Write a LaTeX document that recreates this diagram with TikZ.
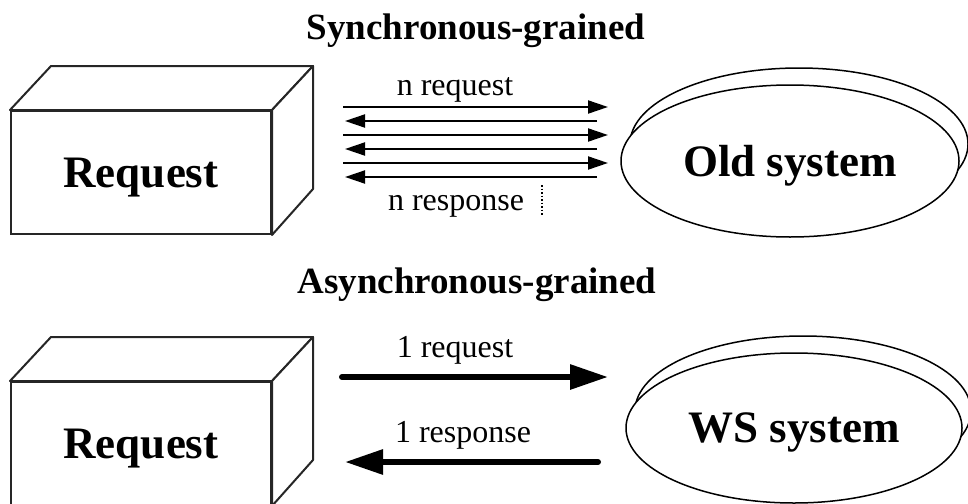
\documentclass[tikz,border=0pt]{standalone}
\usepackage{fontspec}
\setmainfont{Liberation Serif}
\usetikzlibrary{arrows.meta,shapes.geometric,calc}
\begin{document}
\begin{tikzpicture}[x=1pt,y=-1pt,
  boxface/.style={draw=black!85,line width=2pt,fill=white,minimum width=260pt,
    minimum height=123pt,inner sep=0pt,text depth=0pt,
    font=\fontsize{45}{45}\selectfont\bfseries},
  boxside/.style={draw=black!85,line width=2pt,fill=white,line join=round},
  sys/.style={ellipse,draw,line width=1.5pt,fill=white,minimum width=338pt,
    minimum height=152pt,inner sep=0pt,text depth=0pt,
    font=\fontsize{45}{45}\selectfont\bfseries},
  sysback/.style={draw,line width=1.5pt,fill=white},
  title/.style={font=\fontsize{37}{37}\selectfont\bfseries,anchor=base,inner sep=0pt},
  lbl/.style={font=\fontsize{32}{32}\selectfont,anchor=base,inner sep=0pt},
  fewarrow/.style={line width=2pt,-{Triangle[length=20pt,width=13pt]}},
  bigarrow/.style={line width=6pt,line cap=round,-{Triangle[length=38pt,width=24pt]}},
]
\useasboundingbox (0,0) rectangle (968,503);

% ---------- synchronous part ----------
\node[title] (t1) at (476,40) {Synchronous-grained};

% request box (front face + top and side faces)
\node[boxface] (req1) at (141,172.5) {Request};
\draw[boxside] (req1.north west) -- ++(41,-44) -- ($(req1.north east)+(41,-44)$)
  -- (req1.north east) -- cycle;
\draw[boxside] (req1.north east) -- ++(41,-44) -- ++(0,123) -- (req1.south east) -- cycle;

% old system: stacked ellipses
\coordinate (oldc) at (790,161);
\draw[sysback] ($(oldc)+(9,-17)$) ellipse [x radius=169pt, y radius=76pt];
\node[sys] (old) at (oldc) {Old system};

% many small request/response messages
\foreach \i/\yy in {1/107,2/135,3/163}{
  \coordinate (rs\i) at (343,\yy);
  \coordinate (re\i) at (608,\yy);
  \draw[fewarrow] (rs\i) -- (re\i);
}
\foreach \i/\yy in {1/121,2/149,3/177}{
  \coordinate (ls\i) at (597,\yy);
  \coordinate (le\i) at (345,\yy);
  \draw[fewarrow] (ls\i) -- (le\i);
}
\node[lbl] (nreq) at (455,95) {n request};
\node[lbl] (nresp) at (456,210) {n response};
\coordinate (dt) at (542,185);
\coordinate (db) at (542,215);
\draw[line width=1.5pt,dotted] (dt) -- (db);

% ---------- asynchronous part ----------
\node[title] (t2) at (477,293) {Asynchronous-grained};

\node[boxface] (req2) at (141,443.5) {Request};
\draw[boxside] (req2.north west) -- ++(41,-44) -- ($(req2.north east)+(41,-44)$)
  -- (req2.north east) -- cycle;
\draw[boxside] (req2.north east) -- ++(41,-44) -- ++(0,123) -- (req2.south east) -- cycle;

\coordinate (wsc) at (794,428);
\draw[sysback] ($(wsc)+(9,-17)$) ellipse [x radius=168pt, y radius=75pt];
\node[sys,minimum width=336pt,minimum height=150pt] (ws) at (wsc) {WS system};

\coordinate (q1) at (342,377);
\coordinate (q2) at (608,377);
\draw[bigarrow] (q1) -- (q2);
\coordinate (p1) at (598,462);
\coordinate (p2) at (345,462);
\draw[bigarrow] (p1) -- (p2);
\node[lbl] (oreq) at (455,357) {1 request};
\node[lbl] (oresp) at (463,442) {1 response};
\end{tikzpicture}
\end{document}
